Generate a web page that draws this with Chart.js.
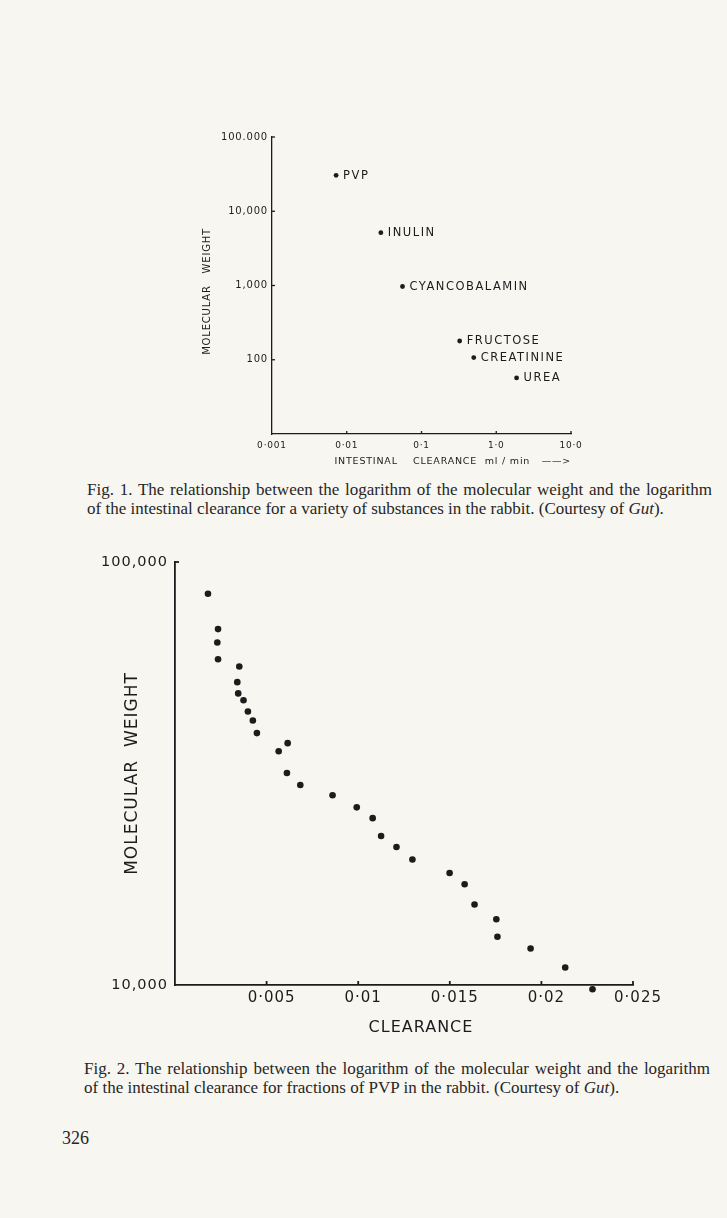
<!DOCTYPE html>
<html>
<head>
<meta charset="utf-8">
<script src="https://cdn.jsdelivr.net/npm/chart.js@4"></script>
<style>
    body {
        margin: 0;
        background: #f8f6f1;
    }

    .page {
        position: relative;
        width: 727px;
        height: 1218px;
        overflow: hidden;
        background: #f8f6f1;
        color: #262626;
        font-family: "Liberation Serif", serif;
    }

    canvas {
        position: absolute;
    }

    .caption {
        position: absolute;
        font-size: 17px;
        line-height: 19px;
        white-space: nowrap;
    }

    .caption .full {
        text-align: justify;
        text-align-last: justify;
    }

    .folio {
        position: absolute;
        left: 62px;
        top: 1128px;
        font-size: 18px;
    }
</style>
</head>
<body>
<div class="page">

    <canvas id="fig1" width="450" height="370" style="left:150px; top:110px;"></canvas>

    <div class="caption" style="left:87px; top:480px;">
        <div class="full" style="width:625px;">Fig. 1. The relationship between the logarithm of the molecular weight and the logarithm</div>
        <div>of the intestinal clearance for a variety of substances in the rabbit. (Courtesy of <i>Gut</i>).</div>
    </div>

    <canvas id="fig2" width="640" height="510" style="left:60px; top:540px;"></canvas>

    <div class="caption" style="left:84px; top:1059px;">
        <div class="full" style="width:626px;">Fig. 2. The relationship between the logarithm of the molecular weight and the logarithm</div>
        <div>of the intestinal clearance for fractions of PVP in the rabbit. (Courtesy of <i>Gut</i>).</div>
    </div>

    <div class="folio">326</div>
</div>

<script>
// fig 1 - substanzen
const fig1Names = ['PVP', 'INULIN', 'CYANCOBALAMIN', 'FRUCTOSE', 'CREATININE', 'UREA'];
const fig1Clearance = [0.0072, 0.0286, 0.0557, 0.324, 0.50, 1.87];
const fig1Weight = [30500, 5150, 970, 179, 107, 57];

const fig1XTicks = [0.001, 0.01, 0.1, 1, 10];
const fig1XLabels = ['0·001', '0·01', '0·1', '1·0', '10·0'];
const fig1YTicks = [10, 100, 1000, 10000, 100000];
const fig1YLabels = ['', '100', '1,000', '10,000', '100.000'];

// fig 2 - PVP fraktionen
const fig2Clearance = [
    0.00180, 0.00235, 0.00231, 0.00235, 0.00351, 0.00340, 0.00345, 0.00374,
    0.00398, 0.00425, 0.00447, 0.00615, 0.00566, 0.00611, 0.00684, 0.00860,
    0.00992, 0.01079, 0.01125, 0.01209, 0.01296, 0.01499, 0.01581, 0.01635,
    0.01754, 0.01760, 0.01941, 0.02130, 0.02279
];
const fig2Weight = [
    84100, 69400, 64500, 58900, 56600, 52000, 48900, 47100,
    44300, 42200, 39400, 37300, 35700, 31700, 29700, 28100,
    26300, 24800, 22500, 21200, 19800, 18400, 17300, 15500,
    14300, 13000, 12200, 11000, 9770
];

const fig2XTicks = [0.005, 0.01, 0.015, 0.02, 0.025];
const fig2XLabels = ['0·005', '0·01', '0·015', '0·02', '0·025'];
const fig2YTicks = [10000, 100000];
const fig2YLabels = ['10,000', '100,000'];

const ink = '#1c1c1c';
const sans = 'DejaVu Sans';

// huruf agak renggang seperti cetakan asli
const spacingPlugin = {
    id: 'spacing',
    beforeDraw(chart, args, opts) {
        chart.ctx.letterSpacing = (opts.px || 0) + 'px';
    }
};

// tick kecil menghadap ke dalam
const innerTicksPlugin = {
    id: 'innerTicks',
    afterDraw(chart, args, opts) {
        const ctx = chart.ctx;
        const area = chart.chartArea;
        const xs = chart.scales.x;
        const ys = chart.scales.y;

        ctx.save();
        ctx.strokeStyle = ink;
        ctx.lineWidth = opts.width || 1.3;

        xs.ticks.forEach(t => {
            if (t.value <= xs.min) return;
            const px = xs.getPixelForValue(t.value);
            ctx.beginPath();
            ctx.moveTo(px, area.bottom);
            ctx.lineTo(px, area.bottom - opts.len);
            ctx.stroke();
        });

        ys.ticks.forEach(t => {
            if (t.value <= ys.min) return;
            const py = ys.getPixelForValue(t.value);
            ctx.beginPath();
            ctx.moveTo(area.left, py);
            ctx.lineTo(area.left + opts.len, py);
            ctx.stroke();
        });

        ctx.restore();
    }
};

// nama zat di samping titik
const pointLabelsPlugin = {
    id: 'pointLabels',
    afterDatasetsDraw(chart, args, opts) {
        if (!opts.names) return;
        const ctx = chart.ctx;
        const meta = chart.getDatasetMeta(0);

        ctx.save();
        ctx.font = opts.font;
        ctx.letterSpacing = opts.spacing + 'px';
        ctx.fillStyle = ink;
        ctx.textAlign = 'left';
        ctx.textBaseline = 'middle';
        meta.data.forEach((pt, i) => {
            ctx.fillText(opts.names[i], pt.x + opts.offset, pt.y + 0.5);
        });
        ctx.restore();
    }
};

function makeChart(id, cfg) {

    return new Chart(document.getElementById(id), {

        type: 'scatter',

        data: {
            datasets: [{
                data: cfg.xs.map((x, i) => ({ x: x, y: cfg.ys[i] })),
                pointRadius: cfg.radius,
                pointHoverRadius: 8,   // supaya titik di bawah sumbu tidak dibuang
                pointBackgroundColor: ink,
                pointBorderWidth: 0,
                clip: false
            }]
        },

        plugins: [spacingPlugin, innerTicksPlugin, pointLabelsPlugin],

        options: {
            responsive: false,
            animation: false,
            events: [],

            layout: {
                padding: cfg.padding
            },

            plugins: {
                legend: { display: false },
                tooltip: { enabled: false },
                spacing: { px: cfg.spacing },
                innerTicks: { len: cfg.tickLen, width: cfg.lineWidth },
                pointLabels: cfg.pointLabels || {}
            },

            scales: {

                x: {
                    type: cfg.xType,
                    min: cfg.xMin,
                    max: cfg.xMax,
                    afterBuildTicks: s => { s.ticks = cfg.xTicks.map(v => ({ value: v })); },
                    afterFit: s => { s.height = cfg.xHeight; },
                    grid: { display: false, drawTicks: false },
                    border: { color: ink, width: cfg.lineWidth },
                    ticks: {
                        autoSkip: false,
                        maxRotation: 0,
                        color: ink,
                        font: { family: sans, size: cfg.xTickSize },
                        padding: cfg.xTickPad,
                        labelOffset: cfg.xLabelOffset || 0,
                        callback: (v, i) => cfg.xLabels[i]
                    },
                    title: {
                        display: true,
                        text: cfg.xTitle,
                        align: cfg.xTitleAlign || 'center',
                        color: ink,
                        font: { family: sans, size: cfg.xTitleSize },
                        padding: { top: 0, bottom: cfg.xTitlePad }
                    }
                },

                y: {
                    type: 'logarithmic',
                    min: cfg.yMin,
                    max: cfg.yMax,
                    afterBuildTicks: s => { s.ticks = cfg.yTicks.map(v => ({ value: v })); },
                    afterFit: s => { s.width = cfg.yWidth; },
                    grid: { display: false, drawTicks: false },
                    border: { color: ink, width: cfg.lineWidth },
                    ticks: {
                        autoSkip: false,
                        color: ink,
                        font: { family: sans, size: cfg.yTickSize },
                        padding: cfg.yTickPad,
                        callback: (v, i) => cfg.yLabels[i]
                    },
                    title: {
                        display: true,
                        text: cfg.yTitle,
                        color: ink,
                        font: { family: sans, size: cfg.yTitleSize },
                        padding: { top: cfg.yTitlePad, bottom: 0 }
                    }
                }
            }
        }
    });
}

document.addEventListener('DOMContentLoaded', function () {

    makeChart('fig1', {
        xs: fig1Clearance,
        ys: fig1Weight,
        radius: 2.4,
        spacing: 0.8,
        lineWidth: 1.3,
        tickLen: 3,
        padding: { top: 27, right: 29, bottom: 0, left: 0 },
        xType: 'logarithmic', xMin: 0.001, xMax: 10,
        xTicks: fig1XTicks, xLabels: fig1XLabels,
        xHeight: 46, xTickSize: 9, xTickPad: 6,
        xTitle: 'INTESTINAL    CLEARANCE  ml / min   ——>',
        xTitleAlign: 'end', xTitleSize: 9.5, xTitlePad: 13,
        yMin: 10, yMax: 100000,
        yTicks: fig1YTicks, yLabels: fig1YLabels,
        yWidth: 122, yTickSize: 10, yTickPad: 4,
        yTitle: 'MOLECULAR   WEIGHT   ', yTitleSize: 10, yTitlePad: 51,
        pointLabels: { names: fig1Names, font: '11.5px "DejaVu Sans"', spacing: 1.5, offset: 7 }
    });

    makeChart('fig2', {
        xs: fig2Clearance,
        ys: fig2Weight,
        radius: 3.3,
        spacing: 1,
        lineWidth: 1.8,
        tickLen: 4,
        padding: { top: 22, right: 67, bottom: 0, left: 0 },
        xType: 'linear', xMin: 0, xMax: 0.025,
        xTicks: fig2XTicks, xLabels: fig2XLabels,
        xHeight: 65, xTickSize: 15, xTickPad: 4, xLabelOffset: 5,
        xTitle: '\u2003\u2003CLEARANCE', xTitleSize: 16, xTitlePad: 13,
        yMin: 10000, yMax: 100000,
        yTicks: fig2YTicks, yLabels: fig2YLabels,
        yWidth: 115, yTickSize: 14.5, yTickPad: 7,
        yTitle: 'MOLECULAR  WEIGHT', yTitleSize: 17, yTitlePad: 62
    });
});
</script>
</body>
</html>
